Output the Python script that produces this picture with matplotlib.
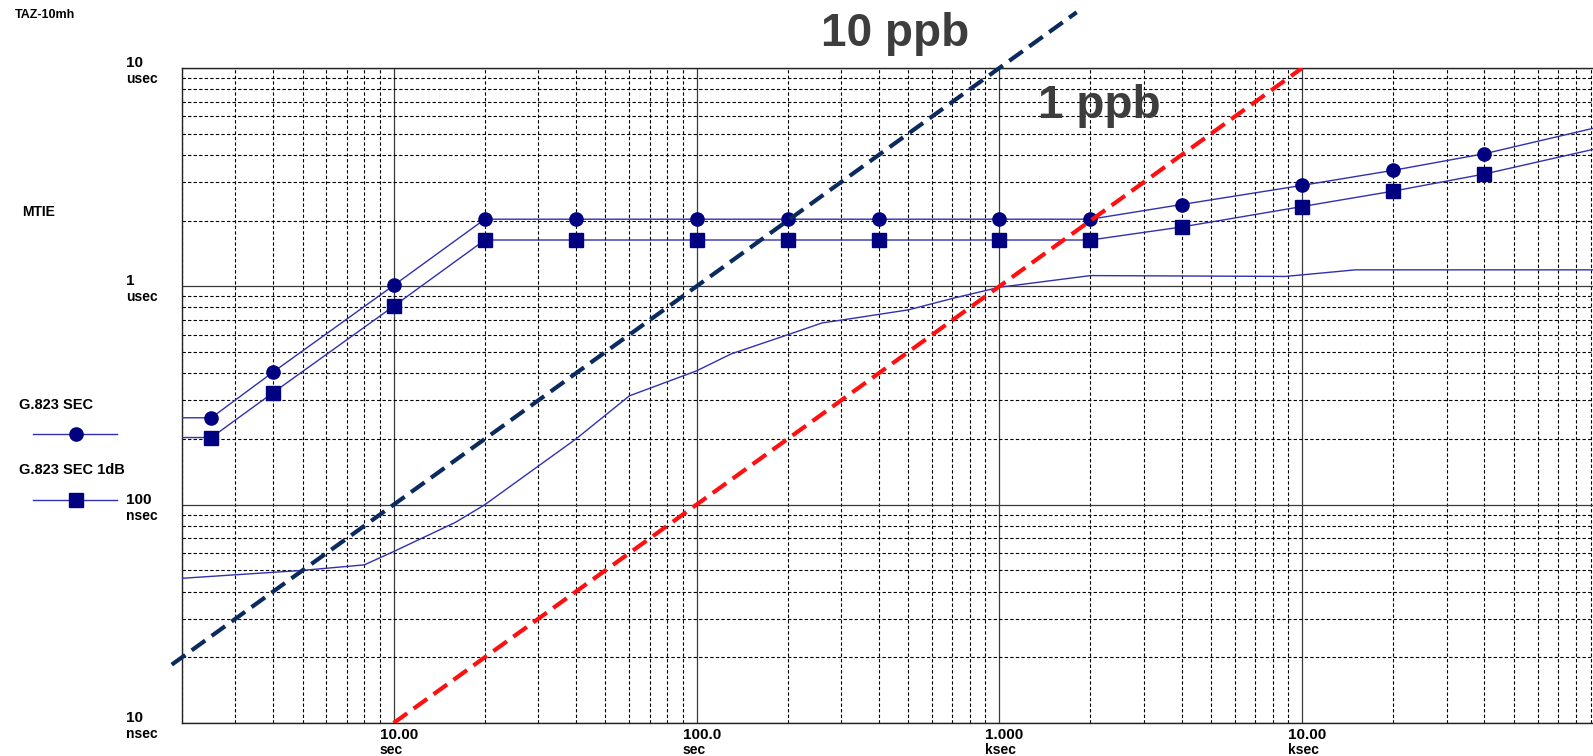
import matplotlib.pyplot as plt
from matplotlib.lines import Line2D
from matplotlib.ticker import LogLocator, NullFormatter

plt.rcParams["font.family"] = ["Liberation Sans", "DejaVu Sans"]

# observation interval (s) and MTIE (ns)
sec_tau = [2, 2.5, 4, 10, 20, 40, 100, 200, 400, 1000, 2000, 4000, 10000, 20000, 40000, 100000]
sec_mtie = [250, 250, 405, 1010, 2030, 2030, 2030, 2030, 2030, 2030, 2030, 2370, 2900, 3400, 4050, 5450]
sec1db_mtie = [203, 203, 326, 811, 1630, 1630, 1630, 1630, 1630, 1630, 1630, 1870, 2320, 2730, 3270, 4360]

meas_tau = [2, 5, 8, 10, 16, 20, 40, 60, 100, 130, 200, 260, 300, 500, 700, 1000, 2000, 8800, 15000, 100000]
meas_mtie = [46, 50, 53, 61, 83, 100, 200, 315, 410, 490, 600, 680, 700, 780, 880, 990, 1120, 1110, 1190, 1190]

ppb10_tau = [1.85, 1800]
ppb10_mtie = [18.5, 18000]
ppb1_tau = [10, 10000]
ppb1_mtie = [10, 10000]

x_ticks = [10, 100, 1000, 10000]
x_nums = ["10.00", "100.0", "1.000", "10.00"]
x_units = ["sec", "sec", "ksec", "ksec"]
y_ticks = [10000, 1000, 100, 10]
y_nums = ["10", "1", "100", "10"]
y_units = ["usec", "usec", "nsec", "nsec"]

W, H = 1593, 756
NAVY = "#000080"
THIN = "#3030b0"

fig = plt.figure(figsize=(W / 100, H / 100), dpi=100)
ax = fig.add_axes([182 / W, 33 / H, (1605 - 182) / W, (723 - 68) / H])
ax.set_xscale("log")
ax.set_yscale("log")
ax.set_xlim(2, 100000)
ax.set_ylim(10, 10000)

for axis in (ax.xaxis, ax.yaxis):
    axis.set_major_locator(LogLocator(base=10, numticks=20))
    axis.set_minor_locator(LogLocator(base=10, subs=range(2, 10), numticks=20))
    axis.set_minor_formatter(NullFormatter())
ax.tick_params(which="both", length=0, labelbottom=False, labelleft=False)
ax.grid(which="major", ls="-", color="#3a3a3a", lw=0.9)
ax.grid(which="minor", ls=(0, (3, 2)), color="black", lw=0.8)
ax.set_axisbelow(True)
for sp in ax.spines.values():
    sp.set_color("#222222")
    sp.set_linewidth(1.0)

# mask curves with markers
marks = list(range(1, len(sec_tau) - 1))
ax.plot(sec_tau, sec_mtie, color=THIN, lw=1, marker="o", ms=9.5,
        mfc=NAVY, mec=NAVY, markevery=marks, zorder=4)
ax.plot(sec_tau, sec1db_mtie, color=THIN, lw=1, marker="s", ms=9.5,
        mfc=NAVY, mec=NAVY, markevery=marks, zorder=4)
ax.plot(meas_tau, meas_mtie, color=THIN, lw=1, zorder=4)

# frequency offset slopes
ax.plot(ppb10_tau, ppb10_mtie, color="#0b2a5e", lw=3, ls=(0, (4, 1.9)),
        clip_on=False, zorder=5)
ax.plot(ppb1_tau, ppb1_mtie, color="#ff1010", lw=3, ls=(0, (4, 1.9)),
        zorder=5)

# tick labels
for t, n, u in zip(x_ticks, x_nums, x_units):
    ax.annotate(n, xy=(t, 0), xycoords=("data", "axes fraction"), xytext=(-14, -5),
                textcoords="offset pixels", ha="left", va="top",
                fontsize=11, fontweight="bold")
    ax.annotate(u, xy=(t, 0), xycoords=("data", "axes fraction"), xytext=(-14, -20),
                textcoords="offset pixels", ha="left", va="top",
                fontsize=10, fontweight="bold")
for v, n, u in zip(y_ticks, y_nums, y_units):
    ax.annotate(n, xy=(0, v), xycoords=("axes fraction", "data"), xytext=(-56, 1),
                textcoords="offset pixels", ha="left", va="baseline",
                fontsize=11, fontweight="bold")
    ax.annotate(u, xy=(0, v), xycoords=("axes fraction", "data"), xytext=(-56, -4),
                textcoords="offset pixels", ha="left", va="top",
                fontsize=10, fontweight="bold")


def ftext(x, y, s, **kw):
    fig.text(x / W, 1 - y / H, s, fontweight="bold", va="baseline", **kw)


ftext(15, 17.5, "TAZ-10mh", fontsize=9)
ftext(22, 215.5, "MTIE", fontsize=10)
ftext(19, 409, "G.823 SEC", fontsize=10.5)
ftext(19, 474, "G.823 SEC 1dB", fontsize=10.5)
ftext(821, 46, "10 ppb", fontsize=33, color="#3d3d3d")
ftext(1038, 118, "1 ppb", fontsize=33, color="#3d3d3d")

# legend samples
for y, m in ((434, "o"), (500, "s")):
    fig.add_artist(Line2D([33 / W, 76 / W, 117 / W], [1 - y / H] * 3,
                          transform=fig.transFigure, color=THIN, lw=1,
                          marker=m, ms=9.5, mfc=NAVY, mec=NAVY, markevery=[1]))

fig.savefig("out.png", dpi=100)
